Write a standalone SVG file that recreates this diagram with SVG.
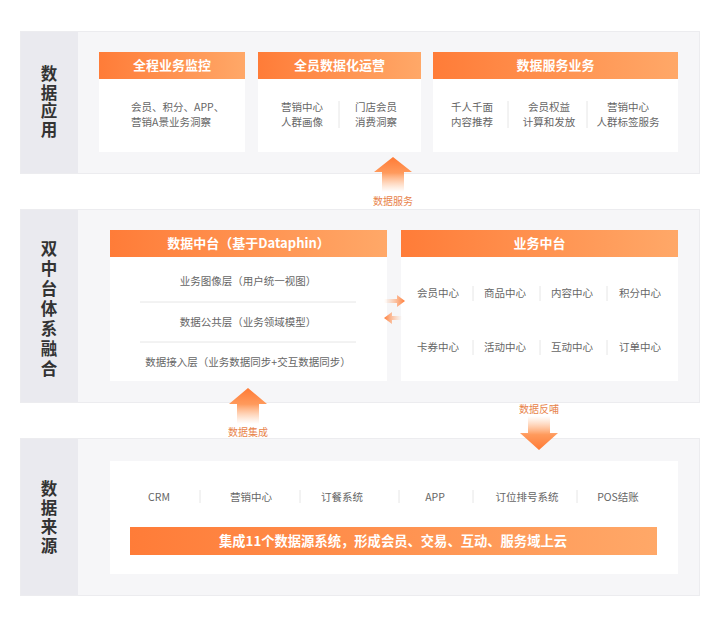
<svg xmlns="http://www.w3.org/2000/svg" width="720" height="618" viewBox="0 0 720 618">
<defs>
<linearGradient id="hdr" x1="0" y1="0" x2="1" y2="0">
<stop offset="0" stop-color="#ff7c38"/>
<stop offset="1" stop-color="#ffa868"/>
</linearGradient>
<linearGradient id="up" x1="0" y1="0" x2="0" y2="1">
<stop offset="0" stop-color="#ff7a35"/>
<stop offset="0.45" stop-color="#ff9a5c"/>
<stop offset="1" stop-color="#ffb888" stop-opacity="0"/>
</linearGradient>
<linearGradient id="down" x1="0" y1="1" x2="0" y2="0">
<stop offset="0" stop-color="#ff7a35"/>
<stop offset="0.45" stop-color="#ff9a5c"/>
<stop offset="1" stop-color="#ffb888" stop-opacity="0"/>
</linearGradient>
<linearGradient id="right" x1="1" y1="0" x2="0" y2="0">
<stop offset="0" stop-color="#ff7a35"/>
<stop offset="1" stop-color="#ffb888" stop-opacity="0"/>
</linearGradient>
<linearGradient id="left" x1="0" y1="0" x2="1" y2="0">
<stop offset="0" stop-color="#ff7a35"/>
<stop offset="1" stop-color="#ffb888" stop-opacity="0"/>
</linearGradient>
<style>
.panel{fill:#f6f6f8;stroke:#ececef;stroke-width:1}
.lab{fill:#eaeaef}
.labt{font-family:"Noto Sans CJK SC","Noto Sans",sans-serif;font-size:16.5px;font-weight:bold;fill:#333;text-anchor:middle;writing-mode:vertical-rl;text-orientation:upright}
.card{fill:#ffffff}
.hdr{fill:url(#hdr)}
.ht{font-family:"Noto Sans CJK SC","Noto Sans",sans-serif;font-size:13px;font-weight:bold;fill:#ffffff;text-anchor:middle}
.t{font-family:"Noto Sans CJK SC","Noto Sans",sans-serif;font-size:10.5px;fill:#666;text-anchor:middle}
.tl{font-family:"Noto Sans CJK SC","Noto Sans",sans-serif;font-size:10.5px;fill:#666;text-anchor:start}
.div{stroke:#e6e6e6;stroke-width:1}
.at{font-family:"Noto Sans CJK SC","Noto Sans",sans-serif;font-size:10px;fill:#e8834a;text-anchor:middle}
.bt{font-family:"Noto Sans CJK SC","Noto Sans",sans-serif;font-size:13.3px;font-weight:bold;fill:#ffffff;text-anchor:middle}
</style>
</defs>
<rect width="720" height="618" fill="#ffffff"/>

<!-- Layer 1: 数据应用 -->
<g id="layer-app">
<rect class="panel" x="20.5" y="31.5" width="679" height="142"/>
<rect class="lab" x="21" y="32" width="57" height="141"/>
<text class="labt" x="49" y="102.5" letter-spacing="2">数据应用</text>
</g>
<g id="card-monitor">
<rect class="card" x="99" y="52" width="146" height="100"/>
<rect class="hdr" x="99" y="52" width="146" height="27"/>
<text class="ht" x="172" y="70">全程业务监控</text>
<text class="tl" x="131" y="111">会员、积分、APP、</text>
<text class="tl" x="131" y="126">营销A景业务洞察</text>
</g>
<g id="card-ops">
<rect class="card" x="258" y="52" width="163" height="100"/>
<rect class="hdr" x="258" y="52" width="163" height="27"/>
<text class="ht" x="339.5" y="70">全员数据化运营</text>
<text class="t" x="302" y="111">营销中心</text>
<text class="t" x="302" y="126">人群画像</text>
<line class="div" x1="339" y1="101" x2="339" y2="128"/>
<text class="t" x="376" y="111">门店会员</text>
<text class="t" x="376" y="126">消费洞察</text>
</g>
<g id="card-service">
<rect class="card" x="433" y="52" width="245" height="100"/>
<rect class="hdr" x="433" y="52" width="245" height="27"/>
<text class="ht" x="555.5" y="70">数据服务业务</text>
<text class="t" x="472" y="111">千人千面</text>
<text class="t" x="472" y="126">内容推荐</text>
<line class="div" x1="508" y1="101" x2="508" y2="128"/>
<text class="t" x="549" y="111">会员权益</text>
<text class="t" x="549" y="126">计算和发放</text>
<line class="div" x1="587" y1="101" x2="587" y2="128"/>
<text class="t" x="628" y="111">营销中心</text>
<text class="t" x="628" y="126">人群标签服务</text>
</g>

<!-- Layer 2: 双中台体系融合 -->
<g id="layer-mid">
<rect class="panel" x="20.5" y="209.5" width="679" height="193"/>
<rect class="lab" x="21" y="210" width="57" height="192"/>
<text class="labt" x="49" y="310" letter-spacing="3.5">双中台体系融合</text>
</g>
<g id="card-datamid">
<rect class="card" x="110" y="230" width="277" height="151"/>
<rect class="hdr" x="110" y="230" width="277" height="27"/>
<text class="ht" x="248.5" y="248">数据中台（基于Dataphin）</text>
<text class="t" x="248" y="285">业务图像层（用户统一视图）</text>
<line class="div" x1="140" y1="302" x2="356" y2="302"/>
<text class="t" x="248" y="326">数据公共层（业务领域模型）</text>
<line class="div" x1="140" y1="342" x2="356" y2="342"/>
<text class="t" x="248" y="366">数据接入层（业务数据同步+交互数据同步）</text>
</g>
<g id="card-bizmid">
<rect class="card" x="401" y="230" width="277" height="151"/>
<rect class="hdr" x="401" y="230" width="277" height="27"/>
<text class="ht" x="539.5" y="248">业务中台</text>
<text class="t" x="438" y="297">会员中心</text>
<text class="t" x="505" y="297">商品中心</text>
<text class="t" x="572" y="297">内容中心</text>
<text class="t" x="640" y="297">积分中心</text>
<line class="div" x1="473" y1="286" x2="473" y2="301"/>
<line class="div" x1="540" y1="286" x2="540" y2="301"/>
<line class="div" x1="607" y1="286" x2="607" y2="301"/>
<text class="t" x="438" y="351">卡券中心</text>
<text class="t" x="505" y="351">活动中心</text>
<text class="t" x="572" y="351">互动中心</text>
<text class="t" x="640" y="351">订单中心</text>
<line class="div" x1="473" y1="340" x2="473" y2="355"/>
<line class="div" x1="540" y1="340" x2="540" y2="355"/>
<line class="div" x1="607" y1="340" x2="607" y2="355"/>
</g>

<!-- Layer 3: 数据来源 -->
<g id="layer-src">
<rect class="panel" x="20.5" y="438.5" width="679" height="157"/>
<rect class="lab" x="21" y="439" width="57" height="156"/>
<text class="labt" x="49" y="518.5" letter-spacing="2.5">数据来源</text>
</g>
<g id="card-sources">
<rect class="card" x="110" y="461" width="568" height="113"/>
<text class="t" x="159" y="501">CRM</text>
<line class="div" x1="200" y1="490" x2="200" y2="503"/>
<text class="t" x="251" y="501">营销中心</text>
<line class="div" x1="300" y1="490" x2="300" y2="503"/>
<text class="t" x="342" y="501">订餐系统</text>
<line class="div" x1="399" y1="490" x2="399" y2="503"/>
<text class="t" x="435" y="501">APP</text>
<line class="div" x1="473" y1="490" x2="473" y2="503"/>
<text class="t" x="527" y="501">订位排号系统</text>
<line class="div" x1="577" y1="490" x2="577" y2="503"/>
<text class="t" x="618" y="501">POS结账</text>
<rect class="hdr" x="130" y="527" width="527" height="28"/>
<text class="bt" x="393" y="546">集成11个数据源系统，形成会员、交易、互动、服务域上云</text>
</g>

<!-- Connectors -->
<g id="connectors">
<path d="M393 157 L412 172 L404 172 L404 192 L382 192 L382 172 L374 172 Z" fill="url(#up)"/>
<text class="at" x="393" y="205">数据服务</text>
<path d="M248 388 L267 404 L259 404 L259 424 L237 424 L237 404 L229 404 Z" fill="url(#up)"/>
<text class="at" x="248" y="436">数据集成</text>
<path d="M539 450 L520 433 L528 433 L528 416 L550 416 L550 433 L558 433 Z" fill="url(#down)"/>
<text class="at" x="539" y="413">数据反哺</text>
<path d="M405 301 L397 295 L397 299 L384 299 L384 303 L397 303 L397 307 Z" fill="url(#right)"/>
<path d="M384 318 L392 312 L392 316 L402 316 L402 320 L392 320 L392 324 Z" fill="url(#left)"/>
</g>
</svg>
